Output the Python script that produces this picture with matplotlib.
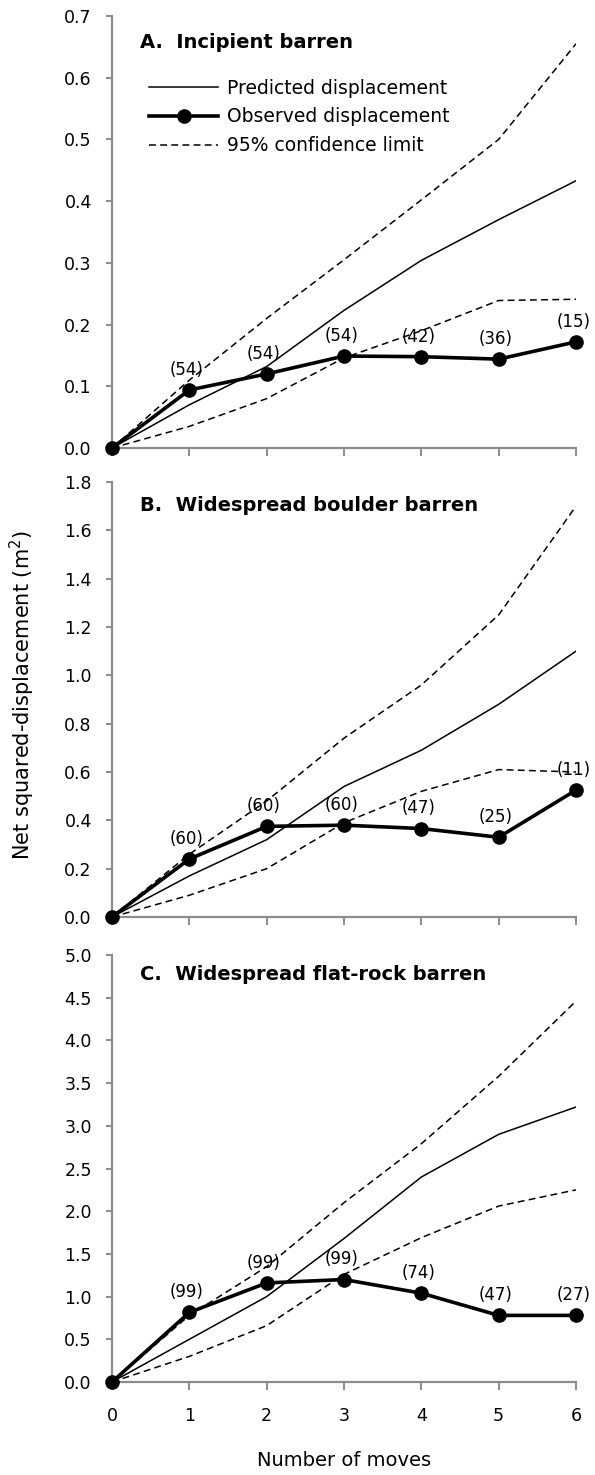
import numpy as np
import matplotlib.pyplot as plt

plt.rcParams['font.family'] = ['DejaVu Sans']

moves = [0, 1, 2, 3, 4, 5, 6]

# A. Incipient barren
a_pred = [0.0, 0.07, 0.132, 0.223, 0.304, 0.370, 0.433]
a_upper = [0.0, 0.11, 0.21, 0.305, 0.402, 0.50, 0.655]
a_lower = [0.0, 0.035, 0.08, 0.146, 0.19, 0.239, 0.241]
a_obs = [0.0, 0.094, 0.12, 0.149, 0.148, 0.144, 0.172]
a_n = ['', '(54)', '(54)', '(54)', '(42)', '(36)', '(15)']

# B. Widespread boulder barren
b_pred = [0.0, 0.17, 0.32, 0.54, 0.69, 0.88, 1.10]
b_upper = [0.0, 0.26, 0.48, 0.74, 0.96, 1.25, 1.70]
b_lower = [0.0, 0.09, 0.20, 0.39, 0.52, 0.61, 0.60]
b_obs = [0.0, 0.24, 0.375, 0.38, 0.366, 0.33, 0.525]
b_n = ['', '(60)', '(60)', '(60)', '(47)', '(25)', '(11)']

# C. Widespread flat-rock barren
c_pred = [0.0, 0.50, 1.0, 1.68, 2.40, 2.90, 3.22]
c_upper = [0.0, 0.78, 1.35, 2.10, 2.79, 3.58, 4.46]
c_lower = [0.0, 0.30, 0.66, 1.26, 1.69, 2.06, 2.25]
c_obs = [0.0, 0.815, 1.16, 1.20, 1.04, 0.78, 0.78]
c_n = ['', '(99)', '(99)', '(99)', '(74)', '(47)', '(27)']

panels = [
    ('A.  Incipient barren', a_pred, a_upper, a_lower, a_obs, a_n, 0.7, 0.1),
    ('B.  Widespread boulder barren', b_pred, b_upper, b_lower, b_obs, b_n, 1.8, 0.2),
    ('C.  Widespread flat-rock barren', c_pred, c_upper, c_lower, c_obs, c_n, 5.0, 0.5),
]

W, H = 595, 1475
fig = plt.figure(figsize=(W / 100, H / 100), dpi=100)

# axes boxes in pixels: (top, bottom, title y)
boxes = [(16, 448, 43), (482, 917, 506), (955, 1382, 975)]
left, right = 112, 576
grey = '#8c8c8c'
dash = (0, (4.5, 2.8))

axes = []
for (title, pred, up, lo, obs, nlab, ymax, step), (top, bot, ty) in zip(panels, boxes):
    ax = fig.add_axes([left / W, 1 - bot / H, (right - left) / W, (bot - top) / H])
    axes.append(ax)
    ax.plot(moves, pred, color='black', lw=1.1, label='Predicted displacement')
    ax.plot(moves, obs, color='black', lw=2.6, marker='o', markersize=9.5,
            label='Observed displacement', clip_on=False, zorder=5)
    ax.plot(moves, up, color='black', lw=1.1, ls=dash, label='95% confidence limit')
    ax.plot(moves, lo, color='black', lw=1.1, ls=dash)
    for x, y, s in zip(moves, obs, nlab):
        if s:
            ax.annotate(s, (x, y), xytext=(-2, 14.5), textcoords='offset points',
                        ha='center', va='center', fontsize=12)
    ax.set_xlim(0, 6)
    ax.set_ylim(0, ymax)
    ax.set_yticks(np.arange(0, ymax + step / 2, step))
    ax.yaxis.set_major_formatter(plt.FormatStrFormatter('%.1f'))
    ax.set_xticks(moves)
    for s in ('top', 'right'):
        ax.spines[s].set_visible(False)
    for s in ('left', 'bottom'):
        ax.spines[s].set_color(grey)
        ax.spines[s].set_linewidth(1.6)
    ax.tick_params(axis='y', direction='out', length=4.5, width=1.4, color=grey,
                   labelsize=12.5, pad=10)
    ax.tick_params(axis='x', direction='out', length=5.8, width=1.4, color=grey,
                   labelsize=12.5, pad=12)
    ax.text(0.06, (bot - ty) / (bot - top), title, transform=ax.transAxes,
            fontsize=14, fontweight='bold', ha='left', va='center')

axes[0].tick_params(axis='x', labelbottom=False)
axes[1].tick_params(axis='x', labelbottom=False)
axes[0].legend(loc='upper left', bbox_to_anchor=(0.08, 0.855), frameon=False,
               fontsize=13.5, handlelength=3.7, handletextpad=0.45, labelspacing=0.52,
               borderaxespad=0, borderpad=0)

fig.text(22 / W, 1 - 695 / H, 'Net squared-displacement (m$^2$)', rotation=90,
         ha='center', va='center', fontsize=15)
fig.text((left + right) / 2 / W, 1 - 1460 / H, 'Number of moves', ha='center',
         va='center', fontsize=14)

fig.savefig('out.png', dpi=100)
